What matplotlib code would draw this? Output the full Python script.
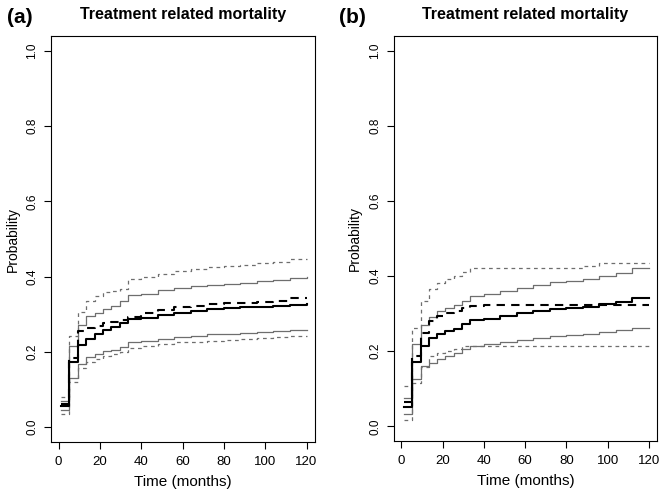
import matplotlib
matplotlib.use("Agg")
import matplotlib.pyplot as plt

plt.rcParams["font.family"] = ["Liberation Sans", "DejaVu Sans"]

# event times (months)
t_a = [1.3, 5.0, 9.3, 13.4, 17.4, 21.5, 25.5, 29.6, 33.8, 40, 48, 56, 64, 72, 80, 88, 96, 104, 112, 120]
t_b = [1.1, 5.3, 9.3, 13.3, 17.3, 21.3, 25.4, 29.4, 33.4, 40, 48, 56, 64, 72, 80, 88, 96, 104, 112, 120]

# panel (a)
est1_a = [0.055, 0.173, 0.219, 0.235, 0.248, 0.259, 0.266, 0.277, 0.288, 0.291, 0.297, 0.304, 0.309, 0.313, 0.316, 0.318, 0.320, 0.322, 0.325, 0.327]
up1_a = [0.068, 0.216, 0.270, 0.295, 0.302, 0.314, 0.321, 0.334, 0.350, 0.355, 0.364, 0.370, 0.374, 0.378, 0.381, 0.384, 0.387, 0.391, 0.396, 0.398]
lo1_a = [0.045, 0.130, 0.168, 0.186, 0.194, 0.201, 0.206, 0.213, 0.225, 0.229, 0.235, 0.240, 0.243, 0.246, 0.248, 0.250, 0.252, 0.254, 0.257, 0.257]
est2_a = [0.060, 0.184, 0.255, 0.264, 0.268, 0.277, 0.280, 0.285, 0.293, 0.303, 0.312, 0.318, 0.323, 0.327, 0.329, 0.331, 0.333, 0.336, 0.342, 0.343]
up2_a = [0.080, 0.243, 0.305, 0.334, 0.348, 0.358, 0.362, 0.367, 0.394, 0.400, 0.408, 0.415, 0.421, 0.425, 0.427, 0.430, 0.436, 0.440, 0.447, 0.447]
lo2_a = [0.035, 0.119, 0.157, 0.172, 0.180, 0.188, 0.193, 0.199, 0.210, 0.215, 0.221, 0.225, 0.227, 0.230, 0.232, 0.234, 0.236, 0.238, 0.241, 0.241]

# panel (b)
est1_b = [0.051, 0.171, 0.214, 0.236, 0.247, 0.254, 0.260, 0.272, 0.283, 0.287, 0.294, 0.302, 0.307, 0.312, 0.315, 0.318, 0.325, 0.331, 0.341, 0.341]
up1_b = [0.076, 0.218, 0.269, 0.292, 0.307, 0.314, 0.322, 0.334, 0.347, 0.352, 0.360, 0.368, 0.377, 0.384, 0.388, 0.393, 0.400, 0.409, 0.421, 0.421]
lo1_b = [0.032, 0.127, 0.161, 0.168, 0.180, 0.187, 0.194, 0.205, 0.214, 0.218, 0.224, 0.231, 0.236, 0.240, 0.243, 0.246, 0.250, 0.256, 0.261, 0.261]
est2_b = [0.064, 0.187, 0.249, 0.281, 0.295, 0.303, 0.307, 0.315, 0.321, 0.322, 0.322, 0.322, 0.322, 0.322, 0.322, 0.322, 0.322, 0.322, 0.322, 0.322]
up2_b = [0.107, 0.263, 0.334, 0.367, 0.383, 0.392, 0.400, 0.410, 0.423, 0.423, 0.423, 0.423, 0.423, 0.423, 0.423, 0.428, 0.436, 0.436, 0.436, 0.436]
lo2_b = [0.017, 0.115, 0.159, 0.186, 0.196, 0.200, 0.205, 0.214, 0.214, 0.214, 0.214, 0.214, 0.214, 0.214, 0.214, 0.214, 0.214, 0.214, 0.214, 0.214]

xticks = [0, 20, 40, 60, 80, 100, 120]
yticks = [0.0, 0.2, 0.4, 0.6, 0.8, 1.0]

grey = "#6e6e6e"


def draw(ax, t, est1, up1, lo1, est2, up2, lo2):
    ax.step(t, up2, where="post", color=grey, lw=0.9, ls=(0, (3, 3)))
    ax.step(t, lo2, where="post", color=grey, lw=0.9, ls=(0, (3, 3)))
    ax.step(t, up1, where="post", color=grey, lw=0.9)
    ax.step(t, lo1, where="post", color=grey, lw=0.9)
    ax.step(t, est2, where="post", color="black", lw=1.5, ls=(0, (4, 3)))
    ax.step(t, est1, where="post", color="black", lw=1.5)
    ax.set_xlim(-3.7, 124.1)
    ax.set_ylim(-0.04, 1.04)
    ax.set_xticks(xticks)
    ax.set_xticklabels([str(v) for v in xticks], fontsize=9.5)
    ax.set_yticks(yticks)
    ax.set_yticklabels(["%.1f" % v for v in yticks], fontsize=8.5, rotation=90, va="center")
    ax.tick_params(axis="x", length=5, width=0.8, pad=5)
    ax.tick_params(axis="y", length=5, width=0.8, pad=4)
    for s in ax.spines.values():
        s.set_linewidth(0.8)
    ax.set_xlabel("Time (months)", fontsize=11, labelpad=5)
    ax.set_ylabel("Probability", fontsize=10, labelpad=5)
    ax.set_title("Treatment related mortality", fontsize=11.5, fontweight="bold", pad=12)


fig = plt.figure(figsize=(6.64, 4.96), dpi=100)
ax_a = fig.add_axes([51 / 664, 54 / 496, 264 / 664, 406 / 496])
ax_b = fig.add_axes([393.7 / 664, 54.7 / 496, 263.6 / 664, 405.3 / 496])

draw(ax_a, t_a, est1_a, up1_a, lo1_a, est2_a, up2_a, lo2_a)
draw(ax_b, t_b, est1_b, up1_b, lo1_b, est2_b, up2_b, lo2_b)

fig.text(7 / 664, 1 - 23 / 496, "(a)", fontsize=15, fontweight="bold", va="baseline")
fig.text(339 / 664, 1 - 23 / 496, "(b)", fontsize=15, fontweight="bold", va="baseline")

fig.savefig("out.png", dpi=100)
